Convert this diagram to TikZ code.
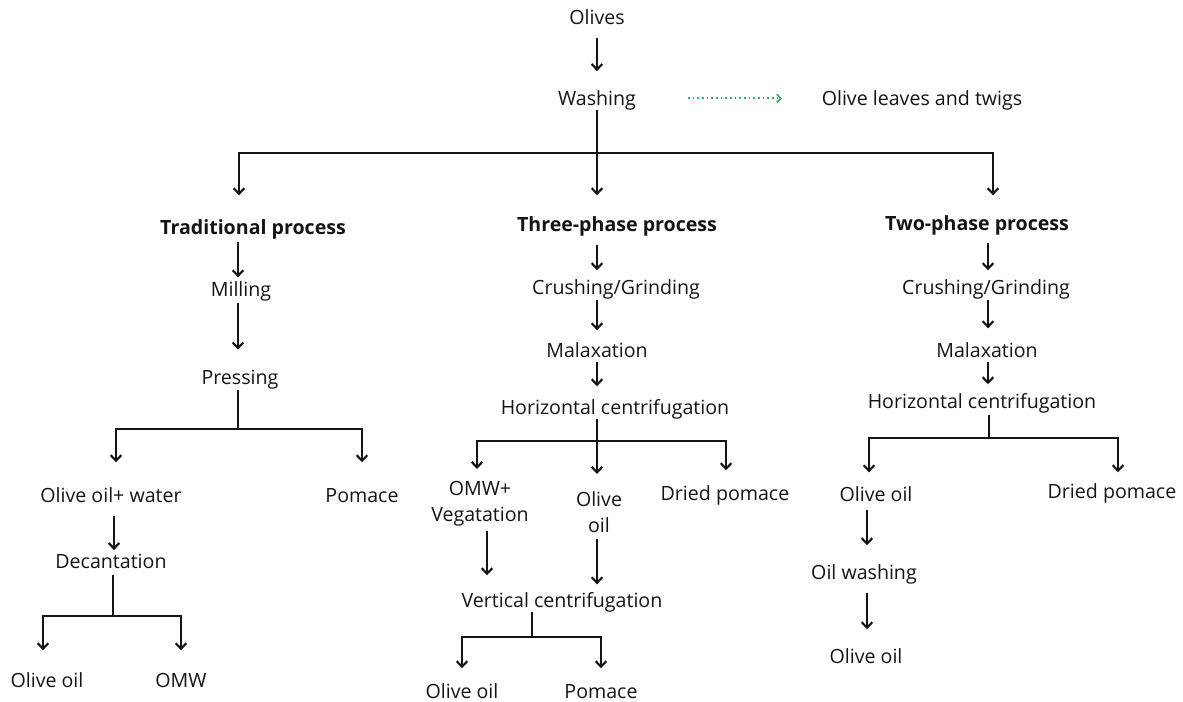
\documentclass[tikz,border=0pt]{standalone}
\usepackage{fontspec}
\setmainfont{Open Sans}
\usetikzlibrary{arrows.meta}
\definecolor{dotgreen}{RGB}{40,180,110}
\definecolor{ink}{RGB}{20,20,20}
\begin{document}
\begin{tikzpicture}[x=0.75pt,y=-0.75pt,
 lbl/.style={font=\fontsize{14.7}{19.5}\selectfont, inner sep=0pt, outer sep=0pt, text height=10.5pt, text depth=3.3pt, text=ink, yshift=-1.5pt},
 blbl/.style={lbl, font=\fontsize{14.7}{19.5}\selectfont\bfseries},
 mlbl/.style={font=\fontsize{14.7}{19.5}\selectfont, inner sep=0pt, outer sep=0pt, align=center, text=ink, yshift=-1.5pt},
 ln/.style={line width=1.6pt, draw=ink, line join=miter},
 arr/.style={ln, -{Straight Barb[length=4.2pt,width=8pt]}},
 garr/.style={line width=1.3pt, draw=dotgreen, dash pattern=on 1.3pt off 2.2pt, -{Straight Barb[length=3pt,width=6pt]}}
]
\useasboundingbox (0,0) rectangle (1183,702);

% ---------- top ----------
\node[lbl] (olives) at (597,18) {Olives};
\node[lbl] (washing) at (597,99) {Washing};
\node[lbl] (leaves) at (922,99) {Olive leaves and twigs};

% ---------- traditional ----------
\node[blbl] (trad) at (253,228) {Traditional process};
\node[lbl] (milling) at (241,290) {Milling};
\node[lbl] (pressing) at (240,378) {Pressing};
\node[lbl] (oow) at (111,496) {Olive oil+ water};
\node[lbl] (pom1) at (362,496) {Pomace};
\node[lbl] (decant) at (111,562) {Decantation};
\node[lbl] (oo1) at (47,681) {Olive oil};
\node[lbl] (omw1) at (181,681) {OMW};

% ---------- three-phase ----------
\node[blbl] (three) at (617,225) {Three-phase process};
\node[lbl] (crush3) at (616,288) {Crushing/Grinding};
\node[lbl] (malax3) at (597,351) {Malaxation};
\node[lbl] (hc3) at (615,408) {Horizontal centrifugation};
\node[mlbl] (omw3) at (480,502) {OMW+\\Vegatation};
\node[mlbl] (oo3) at (599,510) {Olive\\oil};
\node[lbl] (dried3) at (725,494) {Dried pomace};
\node[lbl] (vc) at (562,601) {Vertical centrifugation};
\node[lbl] (oo3b) at (462,692) {Olive oil};
\node[lbl] (pom3) at (601,692) {Pomace};

% ---------- two-phase ----------
\node[blbl] (two) at (977,224) {Two-phase process};
\node[lbl] (crush2) at (986,288) {Crushing/Grinding};
\node[lbl] (malax2) at (987,351) {Malaxation};
\node[lbl] (hc2) at (982,402) {Horizontal centrifugation};
\node[lbl] (oo2) at (876,495) {Olive oil};
\node[lbl] (dried2) at (1112,492) {Dried pomace};
\node[lbl] (ow) at (864,573) {Oil washing};
\node[lbl] (oo2b) at (866,657) {Olive oil};

% ---------- columns and bar points ----------
\coordinate (colM) at (597,0);
\coordinate (colT) at (238,0);
\coordinate (colL) at (114,0);
\coordinate (colMo) at (487,0);
\coordinate (colR) at (988,0);
\coordinate (colR2) at (867,0);

\coordinate (b1) at (597,153); \coordinate (b1L) at (239,153); \coordinate (b1R) at (993,153);
\coordinate (b2) at (238,429); \coordinate (b2L) at (116,429); \coordinate (b2R) at (362,429);
\coordinate (b3) at (113,616); \coordinate (b3L) at (43,616);  \coordinate (b3R) at (181,616);
\coordinate (b4) at (597,441); \coordinate (b4L) at (477,441); \coordinate (b4R) at (726,441);
\coordinate (b5) at (532,637); \coordinate (b5L) at (462,637); \coordinate (b5R) at (601,637);
\coordinate (b6) at (989,438); \coordinate (b6L) at (869,438); \coordinate (b6R) at (1118,438);

% ---------- top connectors ----------
\draw[arr, shorten <=6.5pt, shorten >=15.5pt] (olives.south -| colM) -- (washing.north -| colM);
\draw[garr, shorten <=39pt, shorten >=29.8pt] ([yshift=2pt]washing.east) -- ([yshift=2pt]leaves.west);
\draw[ln] (washing.south -| b1) -- (b1);
\draw[arr, shorten >=16.9pt] (b1) -- (three.north -| b1);
\draw[arr, shorten >=19.1pt] (b1) -- (b1L) -- (trad.north -| b1L);
\draw[arr, shorten >=16.1pt] (b1) -- (b1R) -- (two.north -| b1R);

% ---------- traditional connectors ----------
\draw[arr, shorten <=1.9pt, shorten >=4.1pt] (trad.south -| colT) -- (milling.north -| colT);
\draw[arr, shorten <=1.1pt, shorten >=15.9pt] (milling.south -| colT) -- (pressing.north -| colT);
\draw[ln, shorten <=0.4pt] (pressing.south -| b2) -- (b2);
\draw[arr, shorten >=19.9pt] (b2) -- (b2L) -- (oow.north -| b2L);
\draw[arr, shorten >=19.9pt] (b2) -- (b2R) -- (pom1.north -| b2R);
\draw[arr, shorten <=6.4pt, shorten >=3.5pt] (oow.south -| colL) -- (decant.north -| colL);
\draw[ln, shorten <=1.1pt] (decant.south -| b3) -- (b3);
\draw[arr, shorten >=17.6pt] (b3) -- (b3L) -- (oo1.north -| b3L);
\draw[arr, shorten >=17.6pt] (b3) -- (b3R) -- (omw1.north -| b3R);

% ---------- three-phase connectors ----------
\draw[arr, shorten <=6.4pt, shorten >=7.9pt] (three.south -| colM) -- (crush3.north -| colM);
\draw[arr, shorten <=0.4pt, shorten >=10.1pt] (crush3.south -| colM) -- (malax3.north -| colM);
\draw[arr, shorten >=10.9pt] (malax3.south -| colM) -- (hc3.north -| colM);
\draw[ln] (hc3.south -| b4) -- (b4);
\draw[arr, shorten >=13.1pt] (b4) -- (oo3.north -| b4);
\draw[arr, shorten >=9.4pt] (b4) -- (b4L) -- (omw3.north -| b4L);
\draw[arr, shorten >=12.4pt] (b4) -- (b4R) -- (dried3.north -| b4R);
\draw[arr, shorten <=3.4pt, shorten >=13.9pt] (omw3.south -| colMo) -- (vc.north -| colMo);
\draw[arr, shorten <=5.2pt, shorten >=7.1pt] (oo3.south -| colM) -- (vc.north -| colM);
\draw[ln] (vc.south -| b5) -- (b5);
\draw[arr, shorten >=12.4pt] (b5) -- (b5L) -- (oo3b.north -| b5L);
\draw[arr, shorten >=12.4pt] (b5) -- (b5R) -- (pom3.north -| b5R);

% ---------- two-phase connectors ----------
\draw[arr, shorten <=5.6pt, shorten >=7.9pt] (two.south -| colR) -- (crush2.north -| colR);
\draw[arr, shorten <=0.4pt, shorten >=11.6pt] (crush2.south -| colR) -- (malax2.north -| colR);
\draw[arr, shorten >=7.9pt] (malax2.south -| colR) -- (hc2.north -| colR);
\draw[ln, shorten <=1.1pt] (hc2.south -| b6) -- (b6);
\draw[arr, shorten >=11.6pt] (b6) -- (b6L) -- (oo2.north -| b6L);
\draw[arr, shorten >=9.4pt] (b6) -- (b6R) -- (dried2.north -| b6R);
\draw[arr, shorten <=2.6pt, shorten >=15.4pt] (oo2.south -| colR2) -- (ow.north -| colR2);
\draw[arr, shorten <=6.4pt, shorten >=15.4pt] (ow.south -| colR2) -- (oo2b.north -| colR2);
\end{tikzpicture}
\end{document}
